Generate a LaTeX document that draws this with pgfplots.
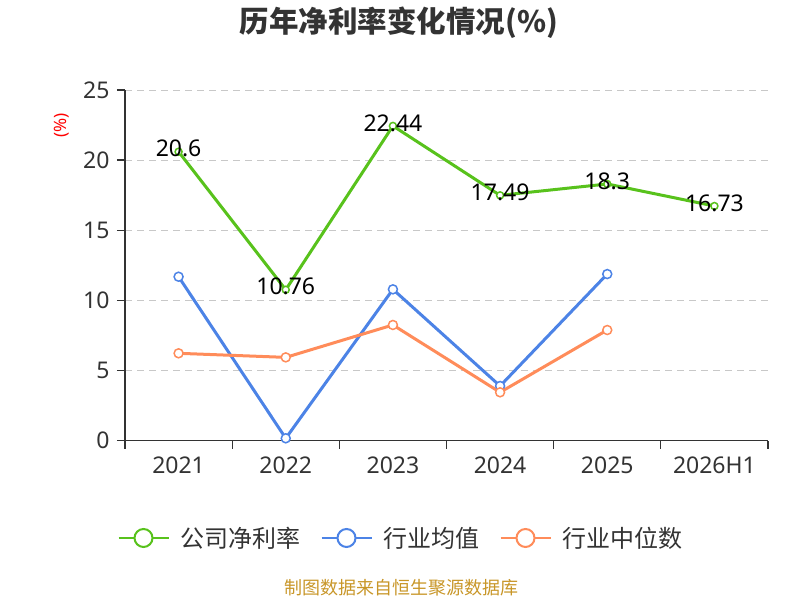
\documentclass[border=0pt]{standalone}
\usepackage{fontspec}
\setmainfont{Noto Sans}
\newfontfamily\cjk{Noto Sans CJK SC}
\usepackage{pgfplots}
\pgfplotsset{compat=1.18}
\usepackage{pgfplotstable}

\definecolor{cgreen}{RGB}{88,194,28}
\definecolor{cblue}{RGB}{76,131,230}
\definecolor{corange}{RGB}{255,140,90}
\definecolor{cdark}{RGB}{51,51,51}
\definecolor{cgrid}{RGB}{200,200,200}
\definecolor{cfoot}{RGB}{200,150,40}

\pgfplotstableread{
x y label
0 20.6 20.6
1 10.76 10.76
2 22.44 22.44
3 17.49 17.49
4 18.3 18.3
5 16.73 16.73
}\company
\pgfplotstableread{
x y
0 11.69
1 0.17
2 10.79
3 3.90
4 11.88
}\indavg
\pgfplotstableread{
x y
0 6.23
1 5.94
2 8.25
3 3.45
4 7.89
}\indmed

\begin{document}
\begin{tikzpicture}[x=1pt,y=1pt]
\useasboundingbox (0,0) rectangle (800,600);
\node[font=\cjk\bfseries\fontsize{29.5}{34}\selectfont, text=cdark] at (399,577.5) {历年净利率变化情况(\%)};
\begin{axis}[
  at={(125pt,159.3pt)}, anchor=south west,
  scale only axis, width=643pt, height=350.7pt,
  xmin=-0.5, xmax=5.5, ymin=0, ymax=25,
  clip=false,
  axis x line=bottom, axis y line=left,
  axis line style={-, line width=1.3pt, draw=cdark},
  xtick={-0.5,0.5,...,5.5},
  x tick label as interval,
  xticklabels={2021,2022,2023,2024,2025,2026H1},
  ytick={0,5,...,25},
  tick align=outside, major tick length=8pt,
  tick style={line width=1.3pt, draw=cdark},
  ymajorgrids,
  grid style={draw=cgrid, line width=1pt, dash pattern=on 7pt off 5pt},
  /pgf/number format/assume math mode=true,
  yticklabel style={font=\fontsize{23}{27}\selectfont, text=cdark, xshift=-4pt},
  xticklabel style={font=\fontsize{23}{27}\selectfont, text=cdark, yshift=-5pt},
  ylabel={(\%)},
  ylabel style={at={(axis description cs:-0.098,0.9)}, anchor=center, text=red, font=\fontsize{17}{20}\selectfont},
  legend columns=3,
  legend style={at={(0.4277,-0.2774)}, anchor=center, draw=none, fill=none,
    font=\cjk\fontsize{24}{28}\selectfont, text=cdark,
    nodes={inner sep=0pt},
    /tikz/every odd column/.append style={column sep=11pt},
    /tikz/every even column/.append style={column sep=20pt}},
  legend image code/.code={\draw[line width=2pt] (0pt,0pt) -- (50pt,0pt); \draw[line width=2pt, fill=white] (25pt,0pt) circle (9pt);},
]
\addplot[cgreen, line width=3pt, mark=*, mark size=3.5pt,
  mark options={fill=white, draw=cgreen, line width=1.5pt},
  nodes near coords, point meta=explicit symbolic,
  every node near coord/.append style={anchor=center, yshift=3pt, text=black, font=\fontsize{23}{27}\selectfont}]
  table[x=x, y=y, meta=label]{\company};
\addlegendentry{公司净利率}
\addplot[cblue, line width=3pt, mark=*, mark size=4.5pt,
  mark options={fill=white, draw=cblue, line width=1.5pt}]
  table[x=x, y=y]{\indavg};
\addlegendentry{行业均值}
\addplot[corange, line width=3pt, mark=*, mark size=4.5pt,
  mark options={fill=white, draw=corange, line width=1.5pt}]
  table[x=x, y=y]{\indmed};
\addlegendentry{行业中位数}
\end{axis}
\node[font=\cjk\fontsize{18}{22}\selectfont, text=cfoot] at (401,12) {制图数据来自恒生聚源数据库};
\end{tikzpicture}
\end{document}
